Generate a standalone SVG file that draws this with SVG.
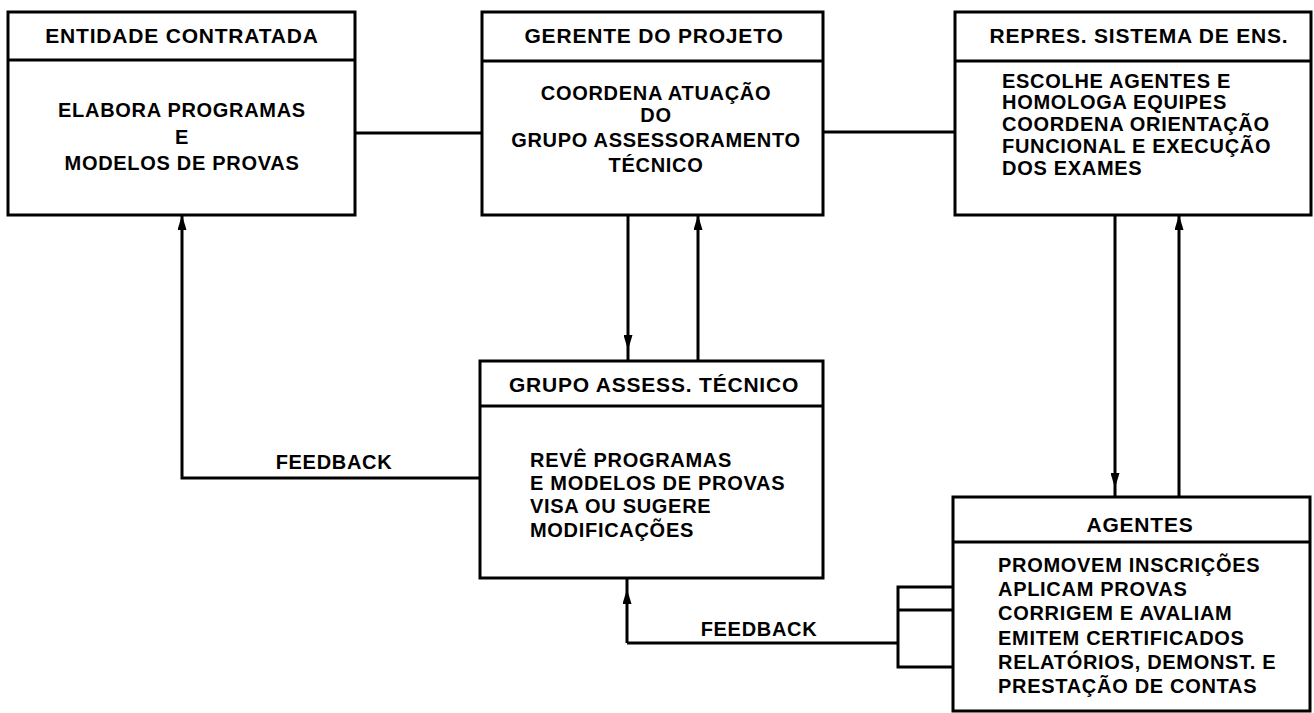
<svg xmlns="http://www.w3.org/2000/svg" width="1314" height="713" viewBox="0 0 1314 713">
<style>
.box{fill:#fff;stroke:#000;stroke-width:3}
.div{stroke:#000;stroke-width:3}
.ln{fill:none;stroke:#000;stroke-width:3}
.hd{font-family:"Liberation Sans",Arial,sans-serif;font-weight:bold;font-size:21px;letter-spacing:0.8px;fill:#000;text-anchor:middle}
.tx{font-family:"Liberation Sans",Arial,sans-serif;font-weight:bold;font-size:20px;letter-spacing:0.7px;fill:#000}
.c{text-anchor:middle}
</style>
<defs>
<marker id="ah" viewBox="0 0 15 9" refX="15" refY="4.5" markerWidth="15" markerHeight="9" markerUnits="userSpaceOnUse" orient="auto">
<path d="M0,0 L15,4.5 L0,9 Z" fill="#000"/>
</marker>
</defs>
<g id="connectors">
<line class="ln" x1="355" y1="133" x2="482" y2="133"/>
<line class="ln" x1="823" y1="132" x2="955" y2="132"/>
<path class="ln" d="M628,215 L628,350 L628,361" marker-mid="url(#ah)"/>
<path class="ln" d="M698,361 L698,215" marker-end="url(#ah)"/>
<path class="ln" d="M1115,215 L1115,488 L1115,497" marker-mid="url(#ah)"/>
<path class="ln" d="M1179,497 L1179,215" marker-end="url(#ah)"/>
<path class="ln" d="M480,478 L182,478 L182,215" marker-end="url(#ah)"/>
<path class="ln" d="M953,587 L898,587 L898,667 L953,667"/>
<line class="ln" x1="898" y1="610" x2="953" y2="610"/>
<path class="ln" d="M898,643 L627,643"/>
<path class="ln" d="M627,643 L627,589 L627,578" marker-mid="url(#ah)"/>
<text class="tx c" x="334" y="469">FEEDBACK</text>
<text class="tx c" x="759" y="636">FEEDBACK</text>
</g>
<g id="entidade">
<rect class="box" x="8" y="12" width="347" height="203"/>
<line class="div" x1="8" y1="60" x2="355" y2="60"/>
<text class="hd" x="182" y="43">ENTIDADE CONTRATADA</text>
<text class="tx c" x="182" y="117">ELABORA PROGRAMAS</text>
<text class="tx c" x="182" y="144">E</text>
<text class="tx c" x="182" y="170">MODELOS DE PROVAS</text>
</g>
<g id="gerente">
<rect class="box" x="482" y="12" width="341" height="203"/>
<line class="div" x1="482" y1="61" x2="823" y2="61"/>
<text class="hd" x="654" y="43">GERENTE DO PROJETO</text>
<text class="tx c" x="656" y="100">COORDENA ATUAÇÃO</text>
<text class="tx c" x="656" y="122">DO</text>
<text class="tx c" x="656" y="147">GRUPO ASSESSORAMENTO</text>
<text class="tx c" x="656" y="172">TÉCNICO</text>
</g>
<g id="repres">
<rect class="box" x="955" y="12" width="356" height="203"/>
<line class="div" x1="955" y1="61" x2="1311" y2="61"/>
<text class="hd" x="1139" y="43">REPRES. SISTEMA DE ENS.</text>
<text class="tx" x="1002" y="88">ESCOLHE AGENTES E</text>
<text class="tx" x="1002" y="109">HOMOLOGA EQUIPES</text>
<text class="tx" x="1002" y="131">COORDENA ORIENTAÇÃO</text>
<text class="tx" x="1002" y="153">FUNCIONAL E EXECUÇÃO</text>
<text class="tx" x="1002" y="175">DOS EXAMES</text>
</g>
<g id="grupo">
<rect class="box" x="480" y="361" width="343" height="217"/>
<line class="div" x1="480" y1="406" x2="823" y2="406"/>
<text class="hd" x="654" y="392">GRUPO ASSESS. TÉCNICO</text>
<text class="tx" x="530" y="467">REVÊ PROGRAMAS</text>
<text class="tx" x="530" y="490">E MODELOS DE PROVAS</text>
<text class="tx" x="530" y="513">VISA OU SUGERE</text>
<text class="tx" x="530" y="537">MODIFICAÇÕES</text>
</g>
<g id="agentes">
<rect class="box" x="953" y="497" width="357" height="214"/>
<line class="div" x1="953" y1="542" x2="1310" y2="542"/>
<text class="hd" x="1140" y="532">AGENTES</text>
<text class="tx" x="998" y="572">PROMOVEM INSCRIÇÕES</text>
<text class="tx" x="998" y="596">APLICAM PROVAS</text>
<text class="tx" x="998" y="620">CORRIGEM E AVALIAM</text>
<text class="tx" x="998" y="645">EMITEM CERTIFICADOS</text>
<text class="tx" x="998" y="669">RELATÓRIOS, DEMONST. E</text>
<text class="tx" x="998" y="693">PRESTAÇÃO DE CONTAS</text>
</g>
</svg>
